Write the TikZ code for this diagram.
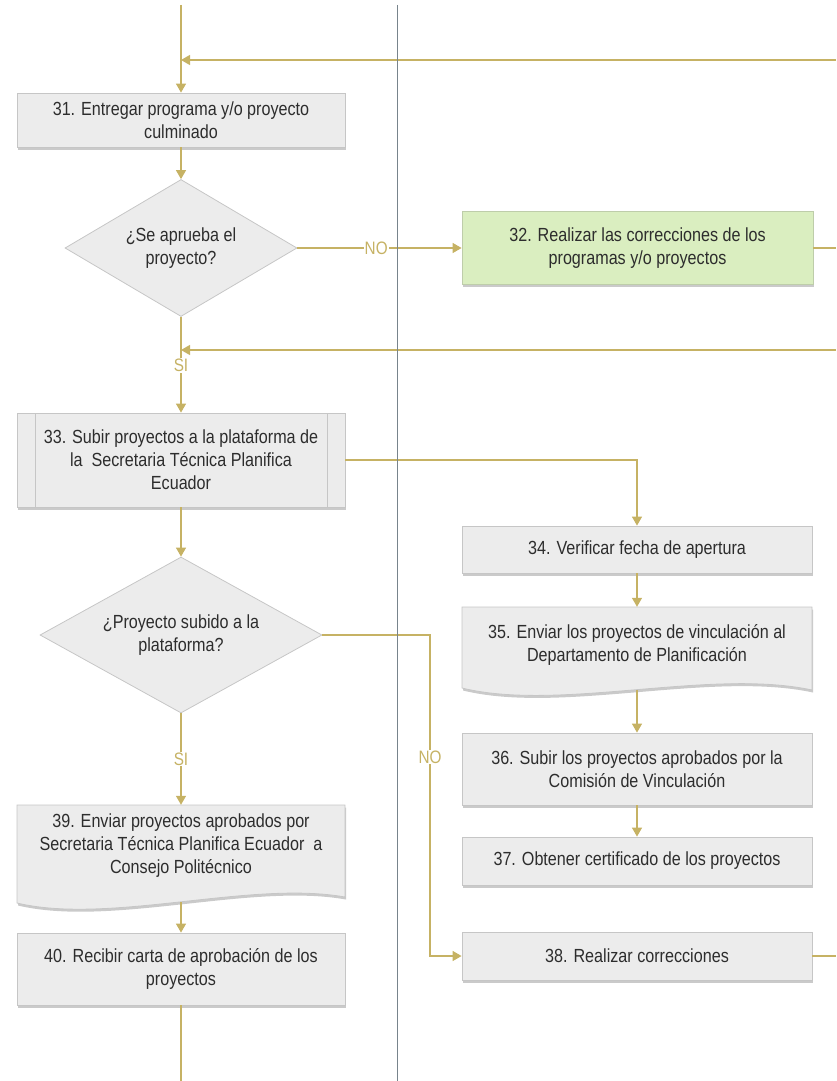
\documentclass[tikz,border=0pt]{standalone}
\usepackage{fontspec}
\setmainfont{Liberation Sans}[FakeStretch=0.85]
\usetikzlibrary{shapes.geometric,arrows.meta,shadows}
\definecolor{flow}{RGB}{198,178,100}
\definecolor{lanecol}{RGB}{120,132,140}
\definecolor{boxfill}{RGB}{236,236,236}
\definecolor{boxline}{RGB}{198,198,198}
\definecolor{greenfill}{RGB}{218,238,192}
\definecolor{greenline}{RGB}{190,205,170}
\definecolor{ink}{RGB}{45,45,45}
\begin{document}
\begin{tikzpicture}[x=1pt,y=-1pt,
  txt/.style={font=\fontsize{19}{23}\selectfont, text=ink, align=center},
  boxshadow/.style={drop shadow={shadow xshift=1pt, shadow yshift=-2.5pt, opacity=0.35, fill=black!60}},
  task/.style={txt, draw=boxline, fill=boxfill, line width=0.8pt, inner sep=0pt, boxshadow},
  leftbox/.style={task, minimum width=328pt},
  rightbox/.style={task, minimum width=350pt},
  decision/.style={txt, diamond, draw=boxline, fill=boxfill, line width=0.8pt, inner sep=0pt},
  frame/.style={rectangle, inner sep=0pt},
  flowline/.style={draw=flow, line width=1.3pt},
  flowarrow/.style={flowline, -{Triangle[length=9pt,width=10pt]}, color=flow},
  flowlabel/.style={font=\fontsize{18}{20}\selectfont, text=flow, fill=white, inner sep=1pt},
  lane/.style={draw=lanecol, line width=1pt}
]
\useasboundingbox (0,0) rectangle (836,1081);

% ---- left column ----
\node[leftbox, minimum height=54pt] (n31) at (181,120) {31. Entregar programa y/o proyecto\\culminado};
\node[decision, shape aspect=1.69, minimum width=232pt, minimum height=137pt] (d1) at (181,248) {¿Se aprueba el\\proyecto?};
\node[leftbox, minimum height=94pt] (n33) at (181,460) {33. Subir proyectos a la plataforma de\\la\ \ Secretaria Técnica Planifica\\Ecuador};
\draw[boxline, line width=0.8pt] (35,413) -- (35,507) (327,413) -- (327,507);
\node[decision, shape aspect=1.8, minimum width=282pt, minimum height=156pt] (d2) at (181,635) {¿Proyecto subido a la\\plataforma?};

% document shape 39
\node[frame, minimum width=328pt, minimum height=97pt] (n39) at (181,853.5) {};
\path[fill=boxfill, draw=boxline, line width=0.8pt, boxshadow]
  (17,805) -- (345,805) -- (345,897) .. controls (250,880) and (110,925) .. (17,903) -- cycle;
\node[txt] (t39) at (181,846) {39. Enviar proyectos aprobados por\\Secretaria Técnica Planifica Ecuador\ \ a\\Consejo Politécnico};

\node[leftbox, minimum height=72pt] (n40) at (181,969) {40. Recibir carta de aprobación de los\\proyectos};

% ---- right column ----
\node[rightbox, fill=greenfill, draw=greenline, minimum width=351pt, minimum height=73pt] (n32) at (637.5,248) {32. Realizar las correcciones de los\\programas y/o proyectos};
\node[rightbox, minimum height=47pt] (n34) at (637,549.5) {34. Verificar fecha de apertura};

% document shape 35
\node[frame, minimum width=350pt, minimum height=83pt] (n35) at (637,648.5) {};
\path[fill=boxfill, draw=boxline, line width=0.8pt, boxshadow]
  (462,607) -- (812,607) -- (812,690) .. controls (710,668) and (560,712) .. (462,688) -- cycle;
\node[txt] (t35) at (637,645) {35. Enviar los proyectos de vinculación al\\Departamento de Planificación};

\node[rightbox, minimum height=72pt] (n36) at (637,769) {36. Subir los proyectos aprobados por la\\Comisión de Vinculación};
\node[rightbox, minimum height=48pt] (n37) at (637,861) {37. Obtener certificado de los proyectos};
\node[rightbox, minimum height=48pt] (n38) at (637,956) {38. Realizar correcciones};

% ---- junctions and free ends ----
\coordinate (top) at (181,5);
\coordinate (j1) at (181,60);
\coordinate (e1) at (836,60);
\coordinate (j2) at (181,350);
\coordinate (e2) at (836,350);
\coordinate (e32) at (836,248);
\coordinate (c33) at (637,460);
\coordinate (c2a) at (430,635);
\coordinate (c2b) at (430,956);
\coordinate (e38) at (836,956);
\coordinate (bottom) at (181,1081);

% ---- connectors ----
\draw[flowarrow] (top) -- (n31);
\draw[flowarrow] (e1) -- (j1);
\draw[flowarrow] (n31) -- (d1);
\draw[flowarrow] (d1.east) -- node[flowlabel, pos=0.48]{NO} (n32.west);
\draw[flowline] (n32.east) -- (e32);
\draw[flowarrow] (d1.south) -- node[flowlabel, pos=0.51]{SI} (n33.north);
\draw[flowarrow] (e2) -- (j2);
\draw[flowarrow] (n33.east) -- (c33) -- (n34.north);
\draw[flowarrow] (n33) -- (d2);
\draw[flowarrow] (n34) -- (n35);
\draw[flowarrow] (n35.south) -- (n36.north);
\draw[flowarrow] (n36) -- (n37);
\draw[flowarrow] (d2.east) -- (c2a) -- node[flowlabel, pos=0.38]{NO} (c2b) -- (n38.west);
\draw[flowline] (n38.east) -- (e38);
\draw[flowarrow] (d2.south) -- node[flowlabel, pos=0.5]{SI} (n39.north);
\draw[flowarrow] (n39.south) -- (n40.north);
\draw[flowline] (n40.south) -- (bottom);

% ---- swimlane divider ----
\draw[lane] (397,5) -- (397,1081);
\end{tikzpicture}
\end{document}
